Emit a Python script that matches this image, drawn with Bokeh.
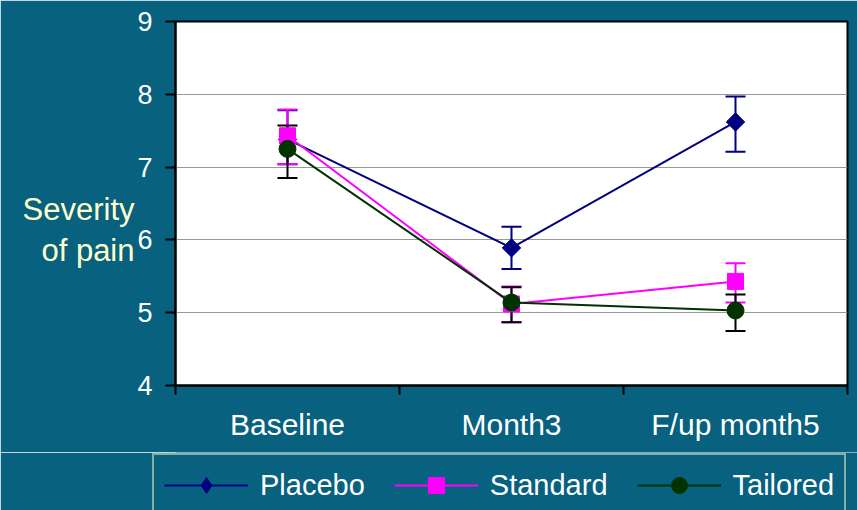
import math
from bokeh.plotting import figure
from bokeh.layouts import column
from bokeh.models import (ColumnDataSource, Range1d, FixedTicker, Whisker, TeeHead,
                          LinearAxis)
from bokeh.embed import file_html
from bokeh.resources import INLINE

# ---- data ----
categories = ["Baseline", "Month3", "F/up month5"]

placebo = [7.38, 5.89, 7.62]
placebo_upper = [7.78, 6.18, 7.97]
placebo_lower = [7.04, 5.60, 7.21]

standard = [7.43, 5.12, 5.43]
standard_upper = [7.79, 5.36, 5.68]
standard_lower = [7.04, 4.87, 5.14]

tailored = [7.25, 5.14, 5.03]
tailored_upper = [7.57, 5.35, 5.25]
tailored_lower = [6.85, 4.87, 4.75]

y_ticks = [4, 5, 6, 7, 8, 9]
y_title = ["Severity", "of pain"]

BG = "#07617F"
FONT = "Liberation Sans"

xs = [i + 0.5 for i in range(len(categories))]
bounds = [float(i) for i in range(len(categories) + 1)]

p = figure(frame_width=672, frame_height=364, output_backend="svg", toolbar_location=None,
           x_range=Range1d(0, len(categories)), y_range=Range1d(min(y_ticks), max(y_ticks)),
           min_border_left=175, min_border_right=10, min_border_top=21, min_border_bottom=67)

p.background_fill_color = "white"
p.border_fill_color = BG
p.outline_line_color = "black"
p.outline_line_width = 2

# x axis: labels at category centres, ticks at category boundaries
p.xaxis.ticker = FixedTicker(ticks=xs, minor_ticks=bounds)
p.xaxis.major_label_overrides = {x: c for x, c in zip(xs, categories)}
p.xaxis.major_tick_line_color = None
p.xaxis.major_tick_out = 9
p.xaxis.major_tick_in = 0
p.xaxis.minor_tick_line_color = "black"
p.xaxis.minor_tick_line_width = 2
p.xaxis.minor_tick_out = 9
p.xaxis.minor_tick_in = 0
p.xaxis.axis_line_color = "black"
p.xaxis.axis_line_width = 2
p.xaxis.major_label_text_color = "white"
p.xaxis.major_label_text_font = FONT
p.xaxis.major_label_text_font_size = "30px"
p.xaxis.major_label_standoff = 13

# y axis
p.yaxis.ticker = FixedTicker(ticks=y_ticks)
p.yaxis.major_tick_line_color = "black"
p.yaxis.major_tick_line_width = 2
p.yaxis.major_tick_out = 10
p.yaxis.major_tick_in = 0
p.yaxis.minor_tick_line_color = None
p.yaxis.axis_line_color = "black"
p.yaxis.axis_line_width = 2
p.yaxis.major_label_text_color = "white"
p.yaxis.major_label_text_font = FONT
p.yaxis.major_label_text_font_size = "27px"
p.yaxis.major_label_standoff = 13

# horizontal two-line y title, drawn as labels of a second (line-less) left axis
y0, y1 = p.y_range.start, p.y_range.end
title_pos = [y1 - (y1 - y0) * f for f in (0.517, 0.630)]
title_axis = LinearAxis(ticker=FixedTicker(ticks=title_pos),
                        major_label_overrides={t: s for t, s in zip(title_pos, y_title)})
title_axis.axis_line_color = None
title_axis.major_tick_line_color = None
title_axis.minor_tick_line_color = None
title_axis.major_tick_out = 0
title_axis.major_tick_in = 0
title_axis.major_label_standoff = 0
title_axis.major_label_text_color = "#FFFFCC"
title_axis.major_label_text_font = FONT
title_axis.major_label_text_font_size = "31px"
p.add_layout(title_axis, "left")

p.xgrid.grid_line_color = None
p.ygrid.ticker = FixedTicker(ticks=y_ticks)
p.ygrid.grid_line_color = "#999999"
p.ygrid.grid_line_width = 1

# name, values, upper, lower, line colour, error colour, marker, size, angle, legend marker
series = [
    ("Placebo", placebo, placebo_upper, placebo_lower, "#000080", "#000080", "square", 13, math.pi / 4, "diamond"),
    ("Standard", standard, standard_upper, standard_lower, "#FF00FF", "#FF00FF", "square", 16, 0.0, "square"),
    ("Tailored", tailored, tailored_upper, tailored_lower, "#003300", "black", "circle", 17, 0.0, "circle"),
]

# second, axis-less strip under the chart that only carries the legend
# (its ranges are placed so that the series themselves are not shown there)
pl = figure(frame_width=857, frame_height=58, output_backend="svg", toolbar_location=None,
            x_range=Range1d(-2, -1), y_range=Range1d(-2, -1), x_axis_type=None, y_axis_type=None,
            min_border_left=0, min_border_right=0, min_border_top=0, min_border_bottom=0)
pl.background_fill_color = BG
pl.border_fill_color = BG
pl.outline_line_color = None
pl.xgrid.visible = False
pl.ygrid.visible = False

for name, vals, up, lo, color, ecolor, marker, size, ang, lmarker in series:
    src = ColumnDataSource(dict(x=xs, y=vals, upper=up, lower=lo))
    w = Whisker(base="x", upper="upper", lower="lower", source=src,
                line_color=ecolor, line_width=2,
                upper_head=TeeHead(size=20, line_color=ecolor, line_width=2),
                lower_head=TeeHead(size=20, line_color=ecolor, line_width=2))
    p.add_layout(w)
    p.line("x", "y", source=src, line_color=color, line_width=2)
    p.scatter("x", "y", source=src, marker=marker, size=size, angle=ang,
              fill_color=color, line_color=color)
    # legend keys in the strip
    pl.line("x", "y", source=src, line_color=color, line_width=2, legend_label=name)
    pl.scatter("x", "y", source=src, marker=lmarker, size=size,
               fill_color=color, line_color=color, legend_label=name)

lg = pl.legend[0]
lg.orientation = "horizontal"
lg.location = (152, -7)
lg.background_fill_color = BG
lg.background_fill_alpha = 1
lg.border_line_color = "#FFFFCC"
lg.border_line_width = 2
lg.label_text_color = "white"
lg.label_text_font = FONT
lg.label_text_font_size = "29px"
lg.glyph_width = 84
lg.glyph_height = 40
lg.label_standoff = 12
lg.spacing = 29
lg.padding = 10
lg.margin = 0

page = column(p, pl, spacing=0)

html = file_html(page, INLINE)
html = html.replace("<body>", '<body style="background-color:%s;">' % BG, 1)
open("out.html", "w").write(html)
